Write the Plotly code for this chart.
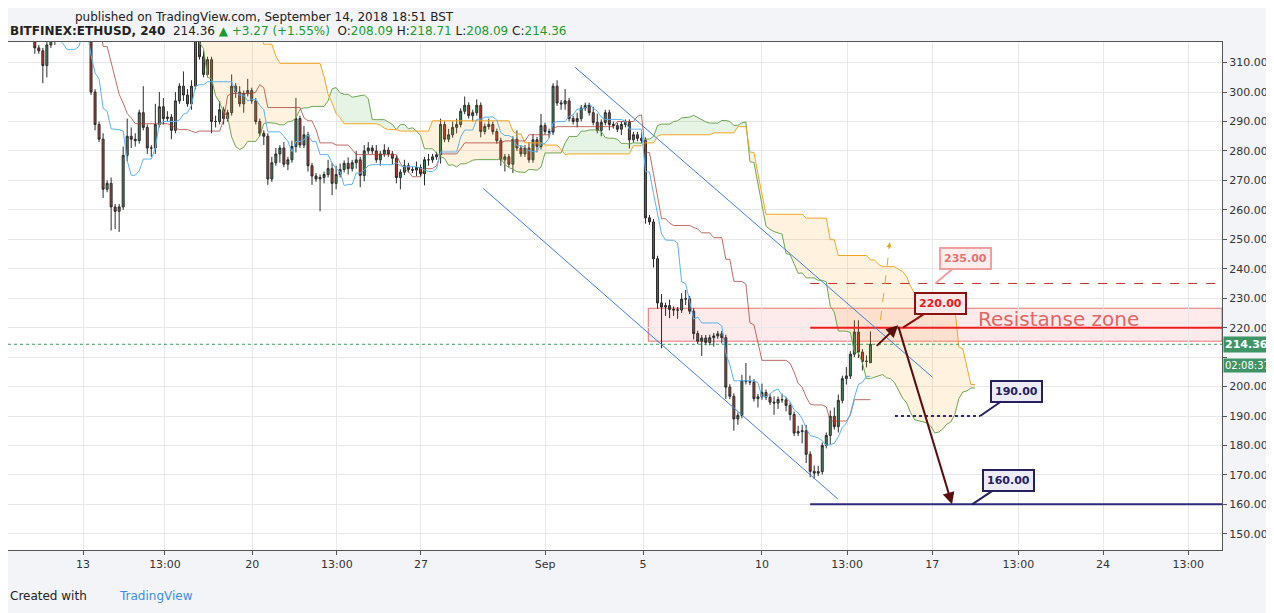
import plotly.graph_objects as go
import numpy as np

# ---------------- data (4h candles, ETHUSD) ----------------
# closes before the visible window (Jul 30 .. Aug 9), used for the Ichimoku look-back
pre_close = [458,462,460,465,462,460, 455,448,440,435,432,430, 425,420,418,422,420,418,
             415,418,416,412,414,412, 410,405,408,410,407,408, 410,412,405,400,403,405,
             407,410,408,410,408,406, 405,402,406,408,405,404, 400,395,385,378,375,378,
             370,362,358,355,360,358, 360,365,362,360,362,365]
close = [355,345,338,332,328,322,315,314,309,316,
         318,321,322,320,324,322,320,319,321,320,
         300,289,284,267,269,261,259.5,261,278.5,285,
         284,283.5,293,288,281,281,289,295,291,291.5,
         287,297,302,299,296,302,318,312,306,311,
         290,290,294,291,293,302,300,296,299.5,300.5,
         297,290,286,285,270.5,276,279,281,275.5,277,
         281.5,291,282,285.5,275,271.5,270.5,271,272,274,
         269,272,273.7,275.8,274,276,277,271.7,280,281,
         280,277,279,280.3,279,277.5,271,272.8,275,273.7,
         273.5,274.4,272.3,277,277,278,278.7,289,284,285.5,
         288,289,293.5,295.5,292,293,295.5,286.6,288.3,289,
         286.6,283.5,277,278,275.5,284,281,279,281,277,
         283.8,281.5,288.6,286.6,286.4,302,296.3,296,297,291,
         290,291,294.6,295.4,293,289.7,287,289.7,293,289,
         288.6,287.4,289,289.7,283.8,285.5,284.3,283.6,257.3,255.9,
         243.4,228.4,227,227.5,226.2,226,226,229.7,229.8,225.6,
         218,215.4,216.5,215,216.6,217.2,217.9,216.6,199.8,196.7,
         189,190.2,202,201.7,201.5,195.9,196.5,198,196.4,194.7,
         194.4,195.6,195.5,193.6,190.5,184.2,184.7,185,177,171.2,
         170.6,171.1,180,183.4,189.9,186.4,195.3,202.7,203.6,211,
         218.5,211.7,208.5,208.6,214.36]
upper_wick = [2,3,1,2,1,2,1,1,1,3, 2,1,2,1,2,1,1,2,1,1, 1,1,1,2,1,2,1,1,3,6,
              3,2,1,9,1,1,7,5,3,2, 1,3,1,5,2,2,2,3,2,1, 1,2,3,1,1,4,1,2,1,4,
              1,1,1,1,1,2,2,1,2,1, 2,7,1,3,1,1,1,1,1,3, 2,3,2,1,2,1,3,1,2,2,
              1,2,1,2,1,1,1,1,2,1, 1,2,1,1,2,1,1,2,1,2, 2,2,1,3,1,1,2,1,1,2,
              1,1,1,1,1,1,3,1,1,2, 2,1,4,1,1,1,2,1,4,1, 1,2,1,1,1,2,3,1,1,1,
              1,1,1,1,1,1,1,2,1,1, 1,1,3,1,2,1,1,2,3,1, 1,1,1,1,1,1,1,1,1,1,
              1,1,2,6,2,1,1,3,1,1, 2,1,2,1,1,1,2,2,2,1, 2,2,1,1,2,3,2,1,3,1,
              4,4,1,2,4.35]
lower_wick = [2,2,1,2,2,1,2,1,6,4, 1,2,1,2,1,1,2,1,1,2, 1,2,1,3,1,8,6,7,1,2,
              3,2,1,1,2,3,2,1,2,1, 3,1,1,2,1,2,1,1,1,1, 4,2,1,2,1,1,2,1,3,1,
              1,1,1,3,2,1,1,3,1,2, 1,2,1,1,2,3,1,11,2,1, 4,2,1,1,2,1,2,4,2,1,
              1,1,2,1,1,2,2,4,1,1, 1,2,1,4,2,1,1,3,1,1, 1,2,1,1,1,2,1,2,1,1,
              1,1,2,4,1,3,1,1,1,1, 1,2,1,1,2,1,1,2,2,1, 1,2,1,1,1,1,1,2,1,2,
              1,1,2,1,3,1,1,1,2,1, 3,2,14,3,3,2,3,1,2,1, 2,1,5,1,1,3,1,2,4,1,
              4,2,1,1,1,1,3,1,1,1, 4,2,1,2,2,1,1,4,3,2, 2,1,1,1,3,1,2,1,2,1,
              1,2,3,2,0]

tick_pos = [18, 38.4, 60.1, 81.2, 102.1, 133.0, 157.4, 187.0, 208.2, 229.4, 250.8, 271.9, 293.1]
tick_text = ["13", "13:00", "20", "13:00", "27", "Sep", "5", "10", "13:00", "17", "13:00", "24", "13:00"]
y_ticks = [150, 160, 170, 180, 190, 200, 210, 220, 230, 240, 250, 260, 270, 280, 290, 300, 310]
y_text = ["150.00", "160.00", "170.00", "180.00", "190.00", "200.00", "", "220.00", "230.00", "240.00",
          "250.00", "260.00", "270.00", "280.00", "290.00", "300.00", "310.00"]  # 210 hidden under price tag

levels = {"resist_lo": 215.4, "resist_hi": 226.6, "target_hi": 235, "line_220": 220,
          "line_190": 190, "line_160": 160, "last": 214.36}

# ---------------- build OHLC ----------------
all_close = np.array(pre_close + close, dtype=float)
n_pre = len(pre_close)
opens = np.concatenate([[all_close[0]], all_close[:-1]])
opens[n_pre + len(close) - 1] = 208.09
hi_all = np.maximum(opens, all_close) + np.concatenate([np.ones(n_pre) * 2, upper_wick])
lo_all = np.minimum(opens, all_close) - np.concatenate([np.ones(n_pre) * 2, lower_wick])
xs_all = np.arange(len(all_close)) - n_pre

def mid(period):
    out = np.full(len(all_close), np.nan)
    for k in range(period - 1, len(all_close)):
        out[k] = (hi_all[k - period + 1:k + 1].max() + lo_all[k - period + 1:k + 1].min()) / 2
    return out

tenkan = mid(9)
kijun = mid(26)
spanA = (tenkan + kijun) / 2
spanB = mid(52)
span_x = xs_all + 26

fig = go.Figure()

valid = ~np.isnan(spanA) & ~np.isnan(spanB) & (span_x >= -2)
sx, sa, sb = span_x[valid].astype(float), spanA[valid], spanB[valid]
segs = []
cur = {"x": [sx[0]], "a": [sa[0]], "b": [sb[0]], "up": sa[0] >= sb[0]}
for k in range(1, len(sx)):
    up = sa[k] >= sb[k]
    if up != cur["up"]:
        d0 = sa[k-1] - sb[k-1]; d1 = sa[k] - sb[k]
        t = d0 / (d0 - d1)
        xc = sx[k-1] + t; yc = sa[k-1] + t * (sa[k] - sa[k-1])
        cur["x"].append(xc); cur["a"].append(yc); cur["b"].append(yc)
        segs.append(cur)
        cur = {"x": [xc], "a": [yc], "b": [yc], "up": up}
    cur["x"].append(sx[k]); cur["a"].append(sa[k]); cur["b"].append(sb[k])
segs.append(cur)
for s in segs:
    col = "rgba(76,175,80,0.14)" if s["up"] else "rgba(255,167,38,0.15)"
    fig.add_trace(go.Scatter(x=s["x"], y=s["b"], mode="lines", line=dict(width=0), hoverinfo="skip", showlegend=False))
    fig.add_trace(go.Scatter(x=s["x"], y=s["a"], mode="lines", line=dict(width=0), fill="tonexty",
                             fillcolor=col, hoverinfo="skip", showlegend=False))
fig.add_trace(go.Scatter(x=sx, y=sa, mode="lines", line=dict(color="#6aa84f", width=1), showlegend=False))
fig.add_trace(go.Scatter(x=sx, y=sb, mode="lines", line=dict(color="#f5a623", width=1), showlegend=False))

vis = xs_all >= -2
fig.add_trace(go.Scatter(x=xs_all[vis], y=kijun[vis], mode="lines", line=dict(color="rgba(170,60,50,0.75)", width=1), showlegend=False))
fig.add_trace(go.Scatter(x=xs_all[vis], y=tenkan[vis], mode="lines", line=dict(color="#5ab4f0", width=1), showlegend=False))

fig.add_trace(go.Candlestick(
    x=xs_all[vis], open=opens[vis], high=hi_all[vis], low=lo_all[vis], close=all_close[vis],
    increasing=dict(fillcolor="#3b8a5a", line=dict(color="#2b2b2b", width=1)),
    decreasing=dict(fillcolor="#c0392b", line=dict(color="#2b2b2b", width=1)),
    whiskerwidth=0, showlegend=False))

XR = [-0.67, 301.5]
shapes = [
    dict(type="rect", x0=158.7, x1=XR[1], y0=levels["resist_lo"], y1=levels["resist_hi"],
         fillcolor="rgba(235,90,90,0.12)", line=dict(color="rgba(220,60,60,0.7)", width=1), layer="below"),
    dict(type="line", x0=199, x1=XR[1], y0=levels["line_220"], y1=levels["line_220"], line=dict(color="#f01e1e", width=2)),
    dict(type="line", x0=199, x1=XR[1], y0=levels["target_hi"], y1=levels["target_hi"], line=dict(color="#c0302a", width=1, dash="dash")),
    dict(type="line", x0=220.1, x1=241.3, y0=levels["line_190"], y1=levels["line_190"], line=dict(color="#2d2a7a", width=2, dash="dot")),
    dict(type="line", x0=199, x1=XR[1], y0=levels["line_160"], y1=levels["line_160"], line=dict(color="#2d2a7a", width=2)),
    dict(type="line", xref="paper", x0=0, x1=1, y0=levels["last"], y1=levels["last"], line=dict(color="#3c9a5f", width=1, dash="dot")),
    dict(type="line", x0=140.5, y0=308.4, x1=229.4, y1=203.2, line=dict(color="#3d7fe0", width=1)),
    dict(type="line", x0=117.6, y0=267.3, x1=205.9, y1=161.8, line=dict(color="#3d7fe0", width=1)),
    dict(type="line", x0=216.5, y0=222.6, x1=218.8, y1=248.5, line=dict(color="#e0a82e", width=1, dash="dash")),
]

def callout(x, y, text, ax, ay, border, fg, bg):
    return dict(x=x, y=y, text=f"<b>{text}</b>", showarrow=True, ax=ax, ay=ay, arrowhead=0, arrowwidth=2,
                arrowcolor=border, bordercolor=border, borderwidth=2, borderpad=3, bgcolor=bg,
                font=dict(color=fg, size=11, family="DejaVu Sans"))

ann = [
    callout(230.1, 235, "235.00", 30, -25, "#f0a0a0", "#e57373", "#fdeeee"),
    callout(222.1, 220, "220.00", 37, -24, "#8b1010", "#e02020", "#fbe9e9"),
    callout(241.3, 190, "190.00", 36, -25, "#26215e", "#26215e", "#ecebf6"),
    callout(239.3, 160, "160.00", 36, -24, "#26215e", "#26215e", "#ecebf6"),
    dict(x=220.9, y=220.8, text="", showarrow=True, ax=-23, ay=22, arrowhead=2, arrowwidth=2, arrowsize=1.2, arrowcolor="#5b0e0e"),
    dict(x=234.3, y=160, text="", showarrow=True, ax=-54, ay=-179, arrowhead=2, arrowwidth=2, arrowsize=1.2, arrowcolor="#5b0e0e"),
    dict(x=218.8, y=249, text="", showarrow=True, ax=-1, ay=8, arrowhead=2, arrowwidth=1, arrowcolor="#e0a82e"),
    dict(x=260.7, y=223.1, text="Resistanse zone", showarrow=False, font=dict(color="#e06666", size=20, family="DejaVu Sans")),
    dict(xref="paper", x=1.0, y=levels["last"], text="<b>214.36</b>", showarrow=False, xanchor="left", xshift=1,
         bgcolor="#3f9465", font=dict(color="white", size=11, family="DejaVu Sans"), borderpad=1),
    dict(xref="paper", x=1.0, y=levels["last"], yshift=-21, text="02:08:37", showarrow=False, xanchor="left", xshift=1,
         bgcolor="#3f9465", font=dict(color="white", size=10, family="DejaVu Sans"), borderpad=1),
    dict(xref="paper", yref="paper", x=(73 - 8) / 1214, y=(550 - 12) / 508, yshift=4, xanchor="left", showarrow=False,
         text="published on TradingView.com, September 14, 2018 18:51 BST", font=dict(size=12, color="#222", family="DejaVu Sans")),
    dict(xref="paper", yref="paper", x=0, y=(550 - 29) / 508, yshift=7, xanchor="left", showarrow=False,
         text="<b>BITFINEX:ETHUSD, 240</b>  214.36 <span style='color:#1c9b2c'>▲ +3.27 (+1.55%)</span>  O:<span style='color:#1c9b2c'>208.09</span> H:<span style='color:#1c9b2c'>218.71</span> L:<span style='color:#1c9b2c'>208.09</span> C:<span style='color:#1c9b2c'>214.36</span>",
         font=dict(size=12, color="#222", family="DejaVu Sans")),
    dict(xref="paper", yref="paper", x=0, y=(550 - 595) / 508, yshift=-10, xanchor="left", showarrow=False,
         text="Created with", font=dict(size=12, color="#222", family="DejaVu Sans")),
    dict(xref="paper", yref="paper", x=(117 - 8) / 1214, y=(550 - 595) / 508, yshift=-10, xanchor="left", showarrow=False,
         text="TradingView", font=dict(size=12, color="#3d8fe0", family="DejaVu Sans")),
]

fig.update_layout(
    width=1266, height=605, margin=dict(l=0, r=52, t=34, b=63),
    paper_bgcolor="#f2f4f8", plot_bgcolor="white", showlegend=False,
    shapes=shapes, annotations=ann,
    xaxis=dict(range=XR, tickvals=tick_pos, ticktext=tick_text, showgrid=True, gridcolor="#e8e8e8",
               rangeslider=dict(visible=False), showline=True, linecolor="#555", mirror=True,
               ticks="outside", ticklen=4, tickcolor="#555", tickfont=dict(size=11, color="#333", family="DejaVu Sans"),
               zeroline=False),
    yaxis=dict(range=[144.5, 317], side="right", tickvals=y_ticks, ticktext=y_text, showgrid=True, gridcolor="#e8e8e8",
               showline=True, linecolor="#555", mirror=True, ticks="outside", ticklen=4, tickcolor="#555",
               tickfont=dict(size=11, color="#333", family="DejaVu Sans"), zeroline=False),
    font=dict(family="DejaVu Sans"),
)
fig.write_html("out.html")
